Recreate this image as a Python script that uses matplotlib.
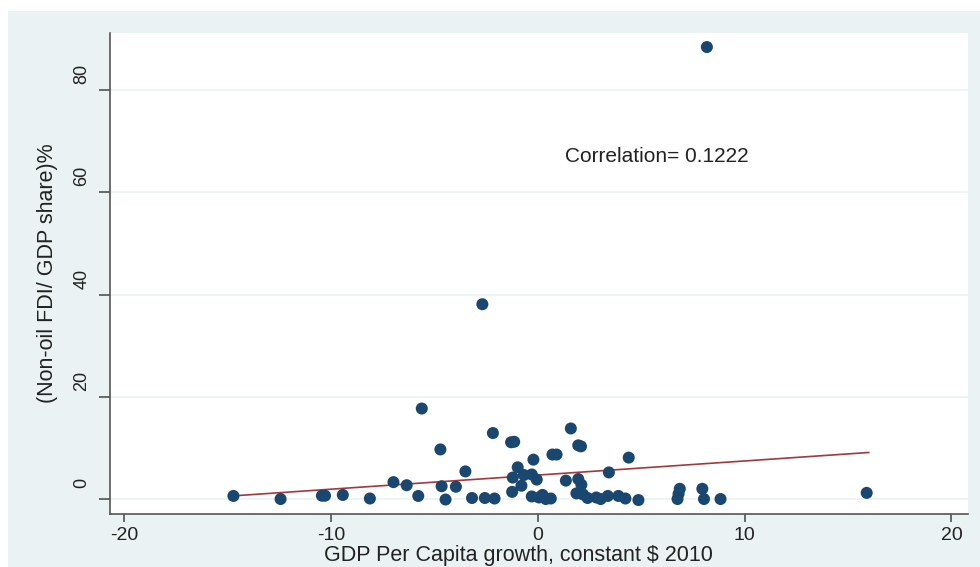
import matplotlib
matplotlib.use("Agg")
import matplotlib.pyplot as plt
import matplotlib.transforms as mtransforms
from matplotlib.patches import Rectangle

plt.rcParams['font.family'] = ['Liberation Sans', 'DejaVu Sans']
plt.rcParams['axes.unicode_minus'] = False

# GDP per capita growth (x) vs non-oil FDI share (y)
growth = [-14.73, -12.45, -10.45, -10.30, -9.44, -8.13, -6.99, -6.35, -5.79, -5.62,
          -4.72, -4.66, -4.47, -3.97, -3.51, -3.19, -2.69, -2.57, -2.18, -2.10,
          -1.30, -1.15, -1.22, -1.25, -0.98, -0.80, -0.68, -0.30, -0.22, -0.06,
          -0.30, 0.05, 0.22, 0.38, 0.62, 0.70, 0.90, 1.35, 1.59, 1.86,
          1.95, 1.95, 2.08, 2.10, 2.18, 2.40, 2.82, 3.03, 3.38, 3.43,
          3.89, 4.23, 4.39, 4.86, 6.86, 6.80, 6.75, 7.95, 8.03, 8.17,
          8.83, 15.90]
fdi_share = [0.6, 0.0, 0.65, 0.65, 0.8, 0.1, 3.3, 2.7, 0.6, 17.7,
             9.7, 2.5, -0.1, 2.4, 5.4, 0.2, 38.1, 0.2, 12.9, 0.1,
             11.1, 11.2, 4.2, 1.4, 6.2, 2.6, 4.7, 4.8, 7.7, 3.8,
             0.5, 0.3, 0.8, 0.0, 0.1, 8.7, 8.7, 3.6, 13.8, 1.1,
             3.9, 10.5, 10.3, 2.8, 0.9, 0.2, 0.3, 0.0, 0.6, 5.2,
             0.6, 0.1, 8.1, -0.2, 2.0, 1.0, 0.0, 2.0, 0.0, 88.4,
             0.0, 1.2]

# linear fit endpoints as drawn
fit_x = [-14.8, 16.0]
fit_y = [0.6, 9.1]

x_ticks = [-20, -10, 0, 10, 20]
y_ticks = [0, 20, 40, 60, 80]

fig = plt.figure(figsize=(9.8, 5.67), dpi=100, facecolor='white')
fig.patches.append(Rectangle((8 / 980, 0), 1, 556 / 567, transform=fig.transFigure,
                             facecolor='#eaf2f3', edgecolor='none', zorder=-10))

ax = fig.add_axes([110 / 980, 53 / 567, 858 / 980, 481 / 567])
ax.set_facecolor('white')

ax.set_yticks(y_ticks)
ax.grid(axis='y', color='#eaf2f3', linewidth=1.2)
ax.set_axisbelow(True)

ax.scatter(growth, fdi_share, s=75, color='#1a476f', edgecolors='none', zorder=3)
ax.plot(fit_x, fit_y, color='#a0393f', linewidth=1.2, zorder=2)

ax.text(1.3, 67.0, 'Correlation= 0.1222', fontsize=15, va='center', ha='left', color='#222222')

ax.set_xlim(-20.7, 20.8)
ax.set_ylim(-2.93, 91.15)
ax.set_xticks(x_ticks)

for side in ['top', 'right']:
    ax.spines[side].set_visible(False)
for side in ['left', 'bottom']:
    ax.spines[side].set_color('#555555')
    ax.spines[side].set_linewidth(1.2)

ax.tick_params(axis='x', length=6, width=1.1, color='#444444', labelsize=14, pad=3, labelcolor='#222222')
ax.tick_params(axis='y', length=8, width=1.1, color='#444444', labelsize=13, pad=6, labelcolor='#222222')

offset = mtransforms.ScaledTranslation(0, 16 / 100, fig.dpi_scale_trans)
for lab in ax.get_yticklabels():
    lab.set_rotation(90)
    lab.set_va('center')
    lab.set_transform(lab.get_transform() + offset)

ax.set_xlabel('GDP Per Capita growth, constant $ 2010', fontsize=15.5, color='#222222')
ax.xaxis.set_label_coords(518 / 980, 5.5 / 567, transform=fig.transFigure)
ax.xaxis.label.set_va('baseline')
ax.set_ylabel('(Non-oil FDI/ GDP share)%', fontsize=15.5, color='#222222')
ax.yaxis.set_label_coords(48 / 980, 294 / 567, transform=fig.transFigure)
ax.yaxis.label.set_va('center')

fig.savefig('out.png', dpi=100, facecolor=fig.get_facecolor())
